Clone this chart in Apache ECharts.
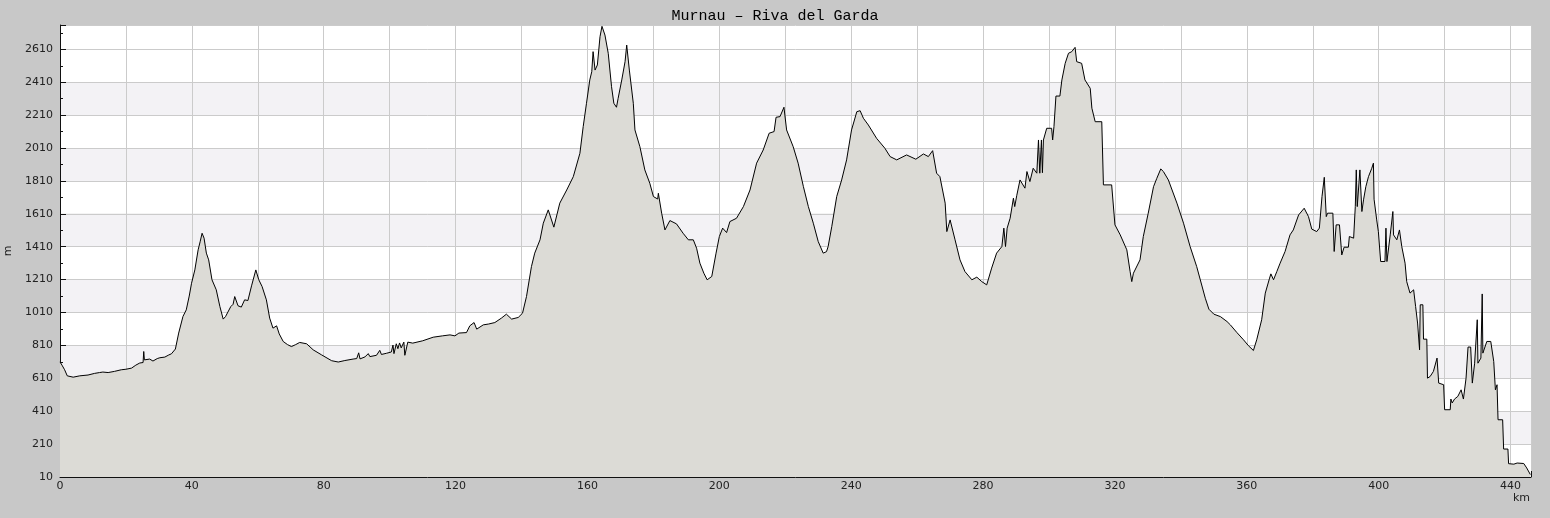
<!DOCTYPE html>
<html>
<head>
<meta charset="utf-8">
<script src="https://cdn.jsdelivr.net/npm/echarts@6/dist/echarts.min.js"></script>
<style>html,body{margin:0;padding:0;background:#c8c8c8;}#c{width:1550px;height:518px;}</style>
</head>
<body>
<div id="c"></div>
<script>
const titleText = 'Murnau – Riva del Garda';
const km = [0,0.6,1.4,2.2,4,6,8.5,10.5,12,13,14.6,16.5,18.6,20,21.7,23,24.2,25.2,25.4,25.6,27.2,28.2,28.7,29.5,29.9,30.3,31.8,33,33.8,35,36,37.3,38.3,39.2,39.9,40.9,41.9,42.5,43.1,43.7,44.4,45.1,46.1,47.4,48.5,49.5,50.2,50.8,51.8,52.5,53,53.5,54,55,56,57,58.1,59.4,60.3,61.3,62.6,63.6,64.6,65.7,66.5,67.7,69,70.2,71.5,72.7,74.8,76.8,79.3,82.4,84.4,86.4,88.9,90,90.6,91,92.5,93.5,94,96,97,97.5,99,100.5,101,101.3,102,102.5,103,103.5,104.3,104.6,105.5,107,110,113.2,116,118.3,119.8,121,123.3,124.3,125.6,126.4,128.4,130,131.9,133.9,135.4,136,137,139,140.3,141.5,143,144,145.6,146.6,148.1,149.8,151.6,153.7,155.7,157.7,158.7,159.7,160.7,161.3,161.7,162.3,163,163.8,164.4,165.3,166.3,167.3,168,168.8,169.3,170.4,171.4,171.9,172.7,173.9,174.4,175.9,177.4,178.9,180,181.3,181.5,182.5,183.5,185,187,189,190.6,192.1,193.1,194.1,195.3,196.3,197.7,199,200,201,202.2,203.2,205.2,207.3,209.3,211.3,213.3,215.1,216.6,217.2,218.4,219.6,220.4,222.4,223.9,225.5,227,228.5,230,231.5,232.5,233,234.1,235.6,237.1,238.6,240.1,241.7,242.7,243.7,245.2,247.7,250.2,251.8,253.8,256.8,259.6,261.9,263.4,264.7,265.9,266.9,268.5,269,270,271.5,273,274.5,276.6,278.1,279.6,281.1,282.6,284.1,285.7,286.3,286.8,287.3,288.2,289.2,289.6,290.2,291.2,292.7,293.3,294.2,295.2,296.3,296.8,297.2,297.7,298,298.3,299.3,300.8,301.1,301.5,302.1,303.3,303.9,304.9,305.9,306.9,307.9,308.4,309.9,310.9,312.5,313,314,316,316.5,319,320,321.6,323.6,324.6,325.1,325.6,327.6,328.6,330.1,331.7,332.7,333.9,334.7,336.2,338.8,340.8,342.8,344.8,347.4,348.5,350,352,354,355,357,359,360.5,362,363,364.5,365.6,366.9,367.3,368.1,369.1,370.1,371.6,373.1,374.1,375.7,377.4,378.7,379.7,381.2,382,382.8,383.5,384.1,384.5,386.1,386.5,387.1,388.1,388.8,389.5,390.8,391.1,392.4,392.9,393.2,393.5,394,394.3,394.9,395.4,396.1,396.9,397.9,398.4,398.6,399.4,399.9,400.6,401.9,402.2,402.5,403.5,404.3,404.5,405.5,406.3,407,408,408.5,409.5,410.6,411.2,411.8,412.4,412.6,413.4,413.6,414.6,414.8,415.6,416.6,417.7,418.2,419.7,420,421.7,421.9,422.3,423,424,425,425.7,426.3,426.5,427.1,427.9,428.4,429.1,429.9,430.1,431,431.4,431.6,432.8,434,434.9,435.4,435.9,436.2,437.6,437.9,439.2,439.4,441,442,442.5,444,444.9,446];
const elevation = [710,690,662,625,617,625,630,640,645,648,645,652,662,665,672,690,703,706,773,722,727,715,706,730,722,735,739,752,759,788,885,986,1026,1110,1188,1269,1391,1440,1492,1462,1371,1330,1209,1148,1046,970,985,975,1046,1060,1107,1117,1051,1043,1087,1083,1172,1269,1209,1168,1087,976,915,929,880,834,815,803,815,828,820,783,753,717,709,718,727,730,765,728,740,760,742,750,780,755,762,770,812,760,820,790,825,795,830,750,830,824,838,860,868,874,868,885,888,929,949,909,935,940,949,976,1000,990,970,980,1006,1107,1289,1371,1452,1553,1634,1529,1675,1755,1836,1978,2140,2282,2424,2474,2596,2484,2515,2687,2750,2697,2586,2383,2282,2258,2312,2424,2535,2636,2484,2282,2120,2018,1877,1796,1715,1700,1735,1614,1512,1569,1549,1492,1452,1452,1401,1310,1249,1209,1229,1371,1472,1523,1496,1563,1583,1654,1755,1918,1998,2100,2110,2197,2201,2258,2120,2018,1918,1775,1654,1553,1441,1371,1380,1411,1532,1715,1816,1938,2120,2231,2237,2191,2150,2069,2009,1958,1938,1968,1942,1974,1958,1994,1857,1836,1675,1502,1573,1452,1330,1259,1209,1225,1198,1178,1280,1371,1411,1523,1411,1523,1583,1705,1654,1720,1816,1766,1867,1806,1887,1857,2059,1857,2059,1860,2059,2130,2130,2059,2140,2326,2326,2424,2525,2586,2596,2622,2535,2525,2424,2373,2252,2170,2170,1786,1786,1543,1482,1391,1259,1198,1249,1330,1472,1614,1775,1826,1883,1867,1816,1675,1553,1411,1289,1097,1030,1000,985,955,935,888,844,808,779,844,966,1128,1219,1245,1209,1259,1310,1381,1482,1512,1603,1644,1593,1517,1502,1523,1715,1832,1593,1614,1614,1381,1543,1543,1360,1407,1407,1472,1462,1654,1877,1654,1654,1877,1624,1695,1775,1836,1887,1918,1699,1573,1502,1320,1320,1523,1320,1482,1624,1482,1452,1512,1411,1310,1198,1128,1148,1046,946,783,1057,1057,848,848,611,621,652,733,581,571,419,419,484,460,484,500,540,484,484,611,800,800,581,702,966,702,733,1123,763,834,834,712,540,571,358,358,180,180,91,88,95,85,92,65,25];
const yTickMin = 10, yTickStep = 200, yMax = 2758;
const xTickStep = 20, xLabelStep = 40, xMax = 446.2;

const chart = echarts.init(document.getElementById('c'), null, {renderer: 'canvas'});
const bandColors = [];
for (let i = 0; i < 14; i++) bandColors.push((i % 2 === 1 && i < 12) ? '#f3f2f5' : '#ffffff');
const labelFont = {fontFamily: 'DejaVu Sans', fontSize: 11, color: '#222'};
chart.setOption({
  animation: false,
  backgroundColor: '#c8c8c8',
  title: {text: titleText, left: 'center', top: 4,
    textStyle: {fontFamily: 'Liberation Mono', fontSize: 15, fontWeight: 'normal', color: '#000'}},
  grid: {left: 60, top: 25, right: 19, bottom: 41, show: false, containLabel: false, outerBoundsMode: 'none'},
  xAxis: {
    type: 'value', min: 0, max: xMax, interval: xTickStep,
    name: 'km', nameLocation: 'end', nameGap: -18,
    nameTextStyle: Object.assign({align: 'left', verticalAlign: 'top', padding: [16, 0, 0, 0]}, labelFont),
    axisLine: {show: true, lineStyle: {color: '#111', width: 1}},
    axisTick: {show: true, inside: true, length: 6, lineStyle: {color: '#111'}},
    minorTick: {show: true, splitNumber: 2, length: 3, lineStyle: {color: '#111'}},
    axisLabel: Object.assign({margin: 4, showMaxLabel: false,
      formatter: v => (Math.abs(v % xLabelStep) < 1e-6 ? String(v) : '')}, labelFont),
    splitLine: {show: true, lineStyle: {color: '#cbcbcb', width: 1}}
  },
  yAxis: {
    type: 'value', min: yTickMin, max: yMax, interval: yTickStep,
    name: 'm', nameLocation: 'middle', nameGap: 42,
    nameTextStyle: labelFont,
    axisLine: {show: true, lineStyle: {color: '#111', width: 1}},
    axisTick: {show: true, inside: true, length: 6, lineStyle: {color: '#111'}},
    minorTick: {show: true, splitNumber: 2, length: 3, lineStyle: {color: '#111'}},
    axisLabel: Object.assign({margin: 7, showMaxLabel: false, formatter: v => String(v)}, labelFont),
    splitLine: {show: true, lineStyle: {color: '#cbcbcb', width: 1}},
    splitArea: {show: true, areaStyle: {color: bandColors}}
  },
  series: [{
    type: 'line',
    data: km.map((k, i) => [k, elevation[i]]),
    showSymbol: false, symbol: 'none',
    lineStyle: {color: '#000', width: 1},
    areaStyle: {color: '#dcdbd6', opacity: 1},
    sampling: null
  }]
});
</script>
</body>
</html>
